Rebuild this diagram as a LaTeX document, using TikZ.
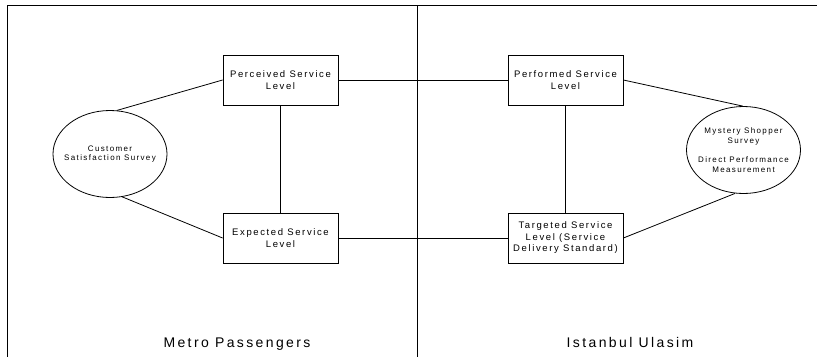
\documentclass[tikz,border=0pt]{standalone}
\usepackage{fontspec}
\setmainfont{Liberation Sans}
\newfontfamily\spacedfont[LetterSpace=17]{Liberation Sans}
\usetikzlibrary{shapes.geometric}

\tikzset{
    levelbox/.style={draw, line width=0.8pt, minimum width=115pt,
	minimum height=50pt, inner sep=0pt, align=center,
	font=\spacedfont\fontsize{9.5}{11.5}\selectfont},
    surveyoval/.style={draw, ellipse, line width=0.8pt, minimum width=114pt,
	minimum height=87pt, inner sep=-15pt, align=center,
	font=\spacedfont\fontsize{8}{9.8}\selectfont},
    sidelabel/.style={anchor=base, font=\spacedfont\fontsize{14}{16}\selectfont}
}

\begin{document}
\begin{tikzpicture}[x=1pt, y=-1pt, line width=0.8pt]
    \useasboundingbox (0, 0) rectangle (817, 357);
    \draw (817, 5) -| (7, 357);
    \draw (417, 5) -- (417, 357);
    \node [levelbox] (percv) at (280.5, 80) {Perceived Service\\Level};
    \node [levelbox] (expct) at (280.5, 238) {Expected Service\\Level};
    \node [levelbox] (perfd) at (565.5, 80) {Performed Service\\Level};
    \node [levelbox] (trgtd) at (565.5, 238)
	{Targeted Service\\Level (Service\\Delivery Standard)};
    \node [surveyoval] (cust) at (110, 154) {Customer\\Satisfaction Survey};
    \node [surveyoval] (myst) at (743.5, 150)
	{Mystery Shopper\\Survey\\[9.8pt]Direct Performance\\Measurement};
    \draw (percv) -- (perfd);
    \draw (expct) -- (trgtd);
    \draw (percv) -- (expct);
    \draw (perfd) -- (trgtd);
    \draw (percv.west) -- (cust.81);
    \draw (expct.west) -- (cust.-74);
    \draw (perfd.east) -- (myst.91);
    \draw (trgtd.east) -- (myst.259);
    \node [sidelabel] (metro) at (237, 347) {Metro Passengers};
    \node [sidelabel] (ulasim) at (630, 347) {Istanbul Ulasim};
\end{tikzpicture}
\end{document}
